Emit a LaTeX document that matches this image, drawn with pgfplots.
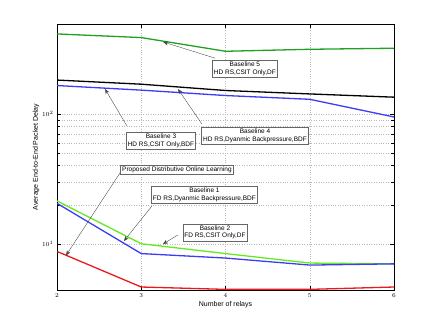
\documentclass[border=0pt]{standalone}
\usepackage{pgfplots}
\pgfplotsset{compat=1.18}
\usepackage{fontspec}
\setmainfont{Liberation Sans}
\usetikzlibrary{arrows.meta}
\definecolor{dgreen}{RGB}{34,160,34}
\definecolor{lgreen}{RGB}{100,235,30}
\definecolor{mblue}{RGB}{60,60,245}
\definecolor{mred}{RGB}{235,25,25}
\begin{document}
\begin{tikzpicture}
\useasboundingbox (-57pt,-37pt) rectangle (379pt,290pt);
\begin{axis}[
  at={(0,0)}, anchor=south west,
  scale only axis, width=337pt, height=266pt,
  ymode=log, xmin=2, xmax=6, ymin=4.4, ymax=495,
  xtick={2,3,4,5,6},
  ytick={10,100},
  grid=both,
  major grid style={dotted, gray!55},
  minor grid style={dotted, gray!55},
  tick align=inside,
  tick style={black, thin},
  axis line style={black, thin},
  tick label style={font=\fontsize{6.5}{7}\selectfont},
  label style={font=\fontsize{7}{8}\selectfont},
  xlabel={Number of relays},
  ylabel={Average End-to-End Packet Delay},
  xlabel style={yshift=3pt},
  ylabel style={yshift=-4pt},
  every axis plot/.append style={line width=1.3pt},
  clip=true,
]
\addplot[dgreen] coordinates {(2,415) (3,389) (4,305) (5,316) (6,322)};
\addplot[black] coordinates {(2,183) (3,170) (4,152) (5,143) (6,135)};
\addplot[mblue] coordinates {(2,166) (3,153) (4,139) (5,130) (6,95)};
\addplot[lgreen] coordinates {(2,21.4) (3,10) (4,8.4) (5,7.1) (6,7.0)};
\addplot[mblue] coordinates {(2,20.5) (3,8.4) (4,7.76) (5,6.85) (6,7.0)};
\addplot[mred] coordinates {(2,8.73) (3,4.64) (4,4.45) (5,4.45) (6,4.64)};

\tikzset{ann/.style={draw=gray!80!black, fill=white, line width=0.5pt, align=center, font=\fontsize{6.5}{7.8}\selectfont, inner sep=1.5pt},
  arr/.style={-{Stealth[length=5pt,width=4pt]}, draw=black!75, line width=0.35pt}}

\draw[arr] (axis cs:3.875,270) -- (axis cs:3.26,360);
\node[ann] at (axis cs:4.23,224) {Baseline 5\\HD RS,CSIT Only,DF};

\draw[arr] (axis cs:2.83,81) -- (axis cs:2.57,156);
\node[ann] at (axis cs:3.234,62.5) {Baseline 3\\HD RS,CSIT Only,BDF};

\draw[arr] (axis cs:3.72,83.8) -- (axis cs:3.436,156);
\node[ann] at (axis cs:4.35,68.4) {Baseline 4\\HD RS,Dyanmic Backpressure,BDF};

\draw[arr] (axis cs:2.748,35.2) -- (axis cs:2.107,8.13);
\node[ann] at (axis cs:3.424,37.4) {Proposed Distributive Online Learning};

\draw[arr] (axis cs:3.128,19.6) -- (axis cs:2.795,10.5);
\node[ann] at (axis cs:3.75,23.8) {Baseline 1\\FD RS,Dyanmic Backpressure,BDF};

\draw[arr] (axis cs:3.436,11.7) -- (axis cs:3.258,9.95);
\node[ann] at (axis cs:3.875,12.25) {Baseline 2\\FD RS,CSIT Only,DF};
\end{axis}
\end{tikzpicture}
\end{document}
